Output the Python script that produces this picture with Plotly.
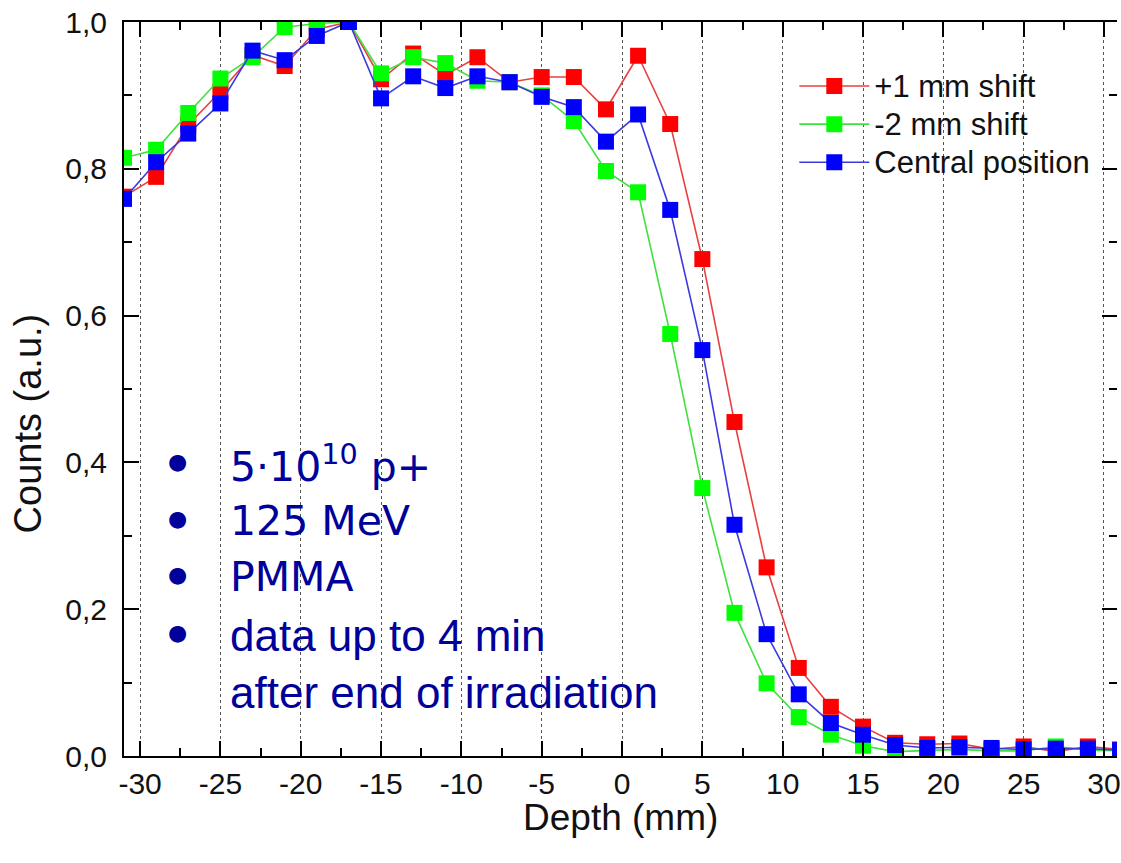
import plotly.graph_objects as go

depth = [-31, -29, -27, -25, -23, -21, -19, -17, -15, -13, -11, -9, -7, -5, -3, -1,
         1, 3, 5, 7, 9, 11, 13, 15, 17, 19, 21, 23, 25, 27, 29, 31]

plus1 = [0.762, 0.789, 0.860, 0.905, 0.955, 0.940, 0.990, 1.000, 0.922, 0.957, 0.928, 0.952,
         0.918, 0.925, 0.925, 0.881, 0.954, 0.861, 0.677, 0.455, 0.257, 0.120, 0.067, 0.040,
         0.018, 0.016, 0.017, 0.009, 0.013, 0.006, 0.013, 0.009]

minus2 = [0.815, 0.826, 0.876, 0.923, 0.952, 0.993, 0.998, 1.000, 0.930, 0.952, 0.944, 0.920,
          0.918, 0.900, 0.865, 0.797, 0.768, 0.575, 0.365, 0.195, 0.099, 0.053, 0.029, 0.014,
          0.006, 0.008, 0.009, 0.007, 0.007, 0.013, 0.008, 0.007]

central = [0.759, 0.809, 0.848, 0.889, 0.961, 0.948, 0.981, 1.000, 0.896, 0.926, 0.910, 0.926,
           0.918, 0.898, 0.884, 0.837, 0.874, 0.744, 0.553, 0.315, 0.166, 0.084, 0.045, 0.029,
           0.015, 0.011, 0.012, 0.011, 0.009, 0.010, 0.010, 0.008]

x_tick_values = [-30, -25, -20, -15, -10, -5, 0, 5, 10, 15, 20, 25, 30]
x_tick_labels = ["-30", "-25", "-20", "-15", "-10", "-5", "0", "5", "10", "15", "20", "25", "30"]

series_names = ["+1 mm shift", "-2 mm shift", "Central position"]
marker_colors = ["#ff0000", "#00ff00", "#0000ff"]
line_colors = ["#e84040", "#40e040", "#3a3ae0"]

W, H = 1121, 863
ML, MR, MT, MB = 124, 0, 22, 107
PW, PH = W - ML - MR, H - MT - MB
PX_PER_MM = 16.13
x0 = -31.0
x1 = x0 + PW / PX_PER_MM


def px(xp):
    return (xp - ML) / PW


def py(yp):
    return (H - MB - yp) / PH


fig = go.Figure()
for name, ys, mc, lc in zip(series_names, [plus1, minus2, central], marker_colors, line_colors):
    fig.add_trace(go.Scatter(
        x=depth, y=ys, name='<span style="font-size:31px">' + name + '</span>',
        mode="lines+markers",
        line=dict(color=lc, width=1.6),
        marker=dict(symbol="square", size=16, color=mc, line=dict(width=0)),
    ))

# invisible trace to create right-side tick axis
fig.add_trace(go.Scatter(x=[depth[0]], y=[0], yaxis="y2", showlegend=False,
                         mode="markers", marker=dict(opacity=0), hoverinfo="skip"))

axis_font = dict(family="Liberation Sans, Arial, sans-serif", size=30, color="#111")

fig.update_layout(
    width=W, height=H,
    margin=dict(l=ML, r=MR, t=MT, b=MB, pad=0),
    paper_bgcolor="white", plot_bgcolor="white",
    separators=",.",
    showlegend=True,
    legend=dict(x=px(797), y=py(62), xanchor="left", yanchor="top",
                font=dict(family="Liberation Sans, Arial, sans-serif", size=27, color="#111"),
                bgcolor="rgba(0,0,0,0)", itemwidth=70, tracegroupgap=0),
    xaxis=dict(range=[x0, x1], tickmode="array", tickvals=x_tick_values, ticktext=x_tick_labels,
               showgrid=True, griddash="dot",
               gridcolor="#555", gridwidth=1, zeroline=False,
               showline=True, linecolor="black", linewidth=2, mirror="ticks",
               ticks="inside", ticklen=15, tickwidth=2, tickcolor="black",
               minor=dict(dtick=2.5, tick0=0, ticks="inside", ticklen=8, tickwidth=2, tickcolor="black", showgrid=False),
               tickfont=axis_font, ticklabelstandoff=0, ticklabeloverflow="allow"),
    yaxis=dict(range=[0, 1], tick0=0, dtick=0.2, tickformat=".1f", showgrid=False, zeroline=False,
               showline=True, linecolor="black", linewidth=2,
               ticks="inside", ticklen=15, tickwidth=2, tickcolor="black",
               minor=dict(dtick=0.1, ticks="inside", ticklen=8, tickwidth=2, tickcolor="black", showgrid=False),
               tickfont=axis_font, ticklabelstandoff=9, ticklabeloverflow="allow"),
    yaxis2=dict(range=[0, 1], overlaying="y", side="right", anchor="x", tick0=0, dtick=0.2,
                showgrid=False, zeroline=False, showline=False, showticklabels=False,
                ticks="inside", ticklen=15, tickwidth=2, tickcolor="black",
                minor=dict(dtick=0.1, ticks="inside", ticklen=8, tickwidth=2, tickcolor="black")),
)

title_font = dict(family="Liberation Sans, Arial, sans-serif", size=37, color="#111")
fig.add_annotation(text="Depth (mm)", xref="paper", yref="paper", x=px(623), y=py(817),
                   xanchor="center", yanchor="middle", showarrow=False, font=title_font)
fig.add_annotation(text="Counts (a.u.)", xref="paper", yref="paper", x=px(28), y=py(423),
                   xanchor="center", yanchor="middle", textangle=-90, showarrow=False,
                   font=dict(family="Liberation Sans, Arial, sans-serif", size=38, color="#111"))

text_color = "#00009a"
tahoma = dict(family="DejaVu Sans, Verdana, sans-serif", size=41, color=text_color)
arial = dict(family="Liberation Sans, Arial, sans-serif", size=44, color=text_color)
bullet_font = dict(family="DejaVu Sans, sans-serif", size=22, color=text_color)

lines = [
    ("5·10<sup>10</sup> p+", tahoma, 464, True),
    ("125 MeV", tahoma, 521, True),
    ("PMMA", tahoma, 577, True),
    ("data up to 4 min", arial, 635, True),
    ("after end of irradiation", arial, 692, False),
]
for txt, f, yc, bullet in lines:
    fig.add_annotation(text=txt, xref="paper", yref="paper", x=px(228), y=py(yc),
                       xanchor="left", yanchor="middle", showarrow=False, font=f)
    if bullet:
        fig.add_annotation(text="●", xref="paper", yref="paper", x=px(178), y=py(yc - 3),
                           xanchor="center", yanchor="middle", showarrow=False, font=bullet_font)

fig.write_html("out.html")
